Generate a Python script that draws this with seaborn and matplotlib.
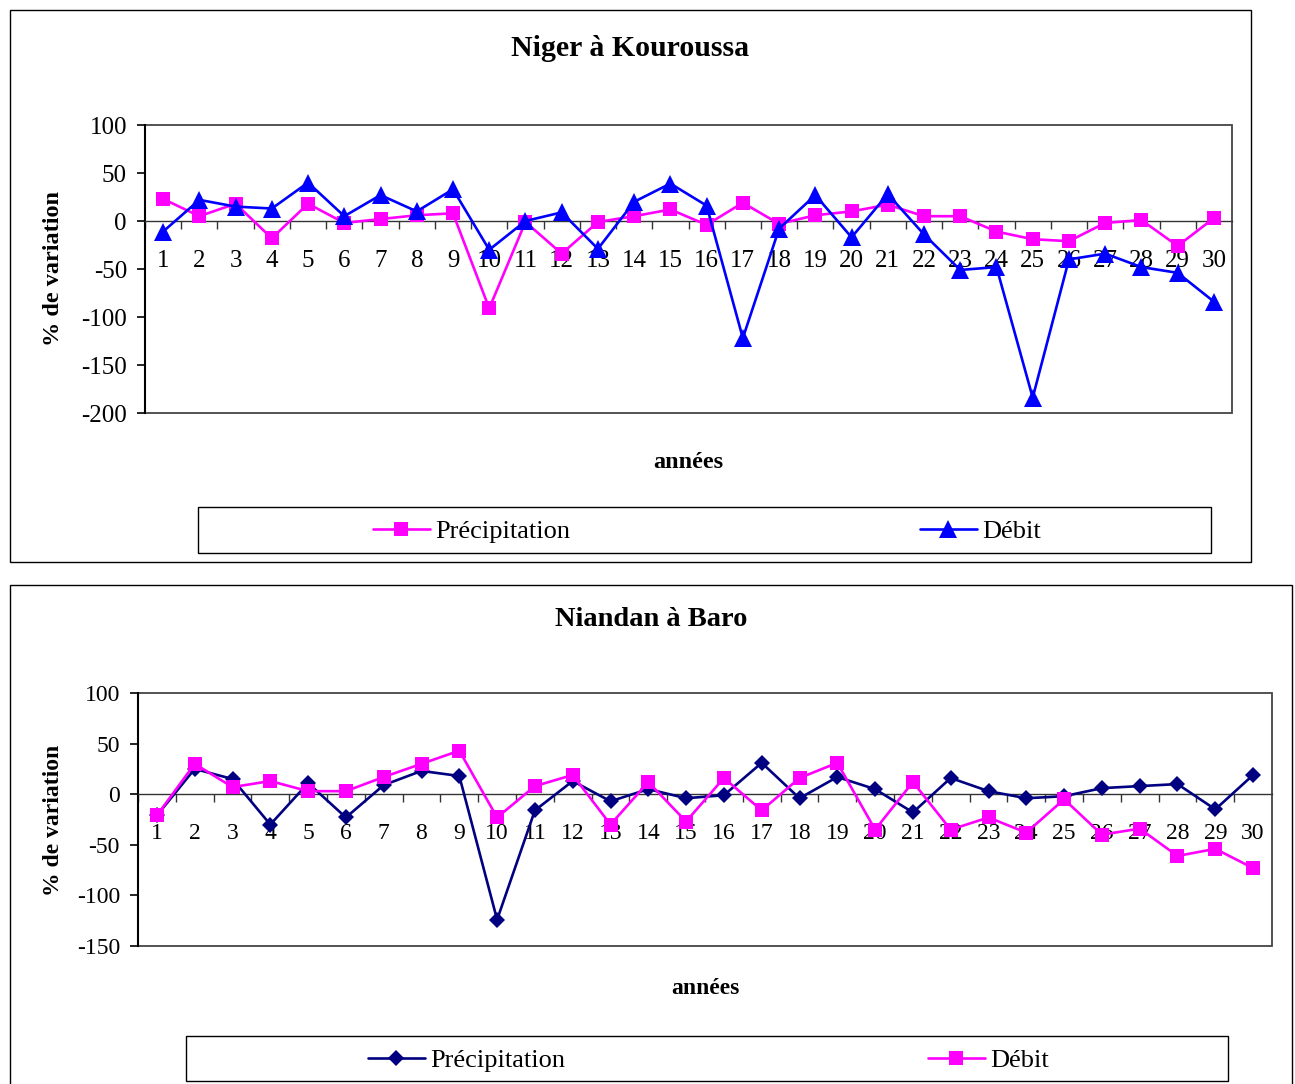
import seaborn as sns
import matplotlib.pyplot as plt
import matplotlib.patches as mpatches
from matplotlib.ticker import MultipleLocator, FixedLocator
import pandas as pd

# Data (years 1..30, % variation)
years = list(range(1, 31))
kour_precip = [23, 5, 18, -18, 18, -2, 2, 6, 8, -91, -1, -34, -1, 5, 12,
               -4, 19, -3, 6, 10, 17, 5, 5, -11, -19, -21, -2, 1, -26, 3]
kour_debit = [-11, 22, 15, 13, 40, 5, 27, 10, 33, -30, 0, 9, -29, 20, 39,
              16, -122, -8, 27, -17, 28, -14, -51, -48, -184, -40, -34, -48, -54, -84]
baro_precip = [-21, 25, 15, -30, 11, -23, 9, 23, 18, -124, -16, 13, -7, 5, -4,
               -1, 31, -4, 17, 5, -18, 16, 3, -4, -2, 6, 8, 10, -15, 19]
baro_debit = [-21, 30, 7, 13, 3, 3, 17, 30, 43, -23, 8, 19, -30, 12, -27,
              16, -16, 16, 31, -35, 12, -35, -23, -38, -5, -40, -34, -61, -54, -73]
series_names = ['Précipitation', 'Débit']

sns.set_style('white')
plt.rcParams['font.family'] = ['Liberation Serif', 'DejaVu Serif']
plt.rcParams['axes.unicode_minus'] = False
plt.rcParams['text.color'] = 'black'
plt.rcParams['xtick.color'] = 'black'
plt.rcParams['ytick.color'] = 'black'

W, H = 1295, 1084
fig = plt.figure(figsize=(W / 100, H / 100), dpi=100)


def fx(px):
    return px / W


def fy(py):
    return 1 - py / H


def frame(x0, y0, x1, y1, lw=1.0, color='black'):
    r = mpatches.Rectangle((fx(x0), fy(y1)), fx(x1) - fx(x0), fy(y0) - fy(y1),
                           transform=fig.transFigure, fill=False,
                           edgecolor=color, linewidth=lw, zorder=0)
    fig.add_artist(r)


def make_chart(box, ylim, ystep, precip, debit, palette, markers, sizes,
               tick_fs):
    x0, y0, x1, y1 = box
    ax = fig.add_axes([fx(x0), fy(y1), fx(x1) - fx(x0), fy(y0) - fy(y1)])
    df = pd.DataFrame({
        'année': years * 2,
        'variation': precip + debit,
        'série': [series_names[0]] * 30 + [series_names[1]] * 30,
    })
    sns.lineplot(data=df, x='année', y='variation', hue='série', style='série',
                 hue_order=series_names, style_order=series_names,
                 palette=palette, markers=markers, dashes=False,
                 linewidth=1.9, markeredgewidth=0, ax=ax, zorder=3)
    for line, name in zip(ax.get_lines(), series_names):
        line.set_markersize(sizes[name])
    handles, labels = ax.get_legend_handles_labels()
    for hnd, name in zip(handles, labels):
        hnd.set_markersize(sizes[name])
        hnd.set_markeredgewidth(0)
        hnd.set_linewidth(1.9)
    ax.get_legend().remove()

    ax.set_xlim(0.5, 30.5)
    ax.set_ylim(*ylim)
    ax.yaxis.set_major_locator(MultipleLocator(ystep))
    ax.set_xlabel('')
    ax.set_ylabel('')

    # category axis crosses at 0
    ax.spines['bottom'].set_position(('data', 0))
    ax.spines['bottom'].set_linewidth(1.0)
    ax.spines['bottom'].set_color('#333333')
    ax.spines['top'].set_visible(False)
    ax.spines['right'].set_visible(False)
    ax.spines['left'].set_linewidth(1.5)
    ax.spines['left'].set_color('black')
    ax.add_patch(mpatches.Rectangle((0, 0), 1, 1, transform=ax.transAxes,
                                    fill=False, edgecolor='#444444',
                                    linewidth=1.3, clip_on=False, zorder=1))

    ax.xaxis.set_major_locator(FixedLocator(years))
    ax.xaxis.set_minor_locator(FixedLocator([y + 0.5 for y in range(0, 30)]))
    ax.tick_params(axis='x', which='major', length=0, pad=21,
                   labelsize=tick_fs, bottom=True)
    ax.tick_params(axis='x', which='minor', length=6, width=1,
                   direction='out', bottom=True, color='#333333')
    ax.tick_params(axis='y', which='major', length=6, width=1.2,
                   direction='out', left=True, pad=7, labelsize=tick_fs)
    for t in ax.get_xticklabels():
        t.set_zorder(2)
    return ax, handles, labels


def add_legend(handles, labels, xs, ypx):
    for hnd, lab, xpx in zip(handles, labels, xs):
        fig.legend([hnd], [lab], loc='center left',
                   bbox_to_anchor=(fx(xpx), fy(ypx)), frameon=False,
                   fontsize=19, handlelength=2.15, handletextpad=0.2,
                   borderpad=0, borderaxespad=0)


# ---- top chart : Niger à Kouroussa ----
frame(10, 10, 1251, 562)
ax1, h1, l1 = make_chart(
    (145, 125, 1232, 413), (-200, 100), 50, kour_precip, kour_debit,
    {'Précipitation': '#FF00FF', 'Débit': '#0000FF'},
    {'Précipitation': 's', 'Débit': '^'},
    {'Précipitation': 10, 'Débit': 12.5}, 18)
fig.text(fx(630), fy(48), 'Niger à Kouroussa', ha='center', va='center',
         fontsize=21.5, fontweight='bold')
fig.text(fx(54), fy(269), '% de variation', rotation=90, ha='center',
         va='center', fontsize=17.5, fontweight='bold')
fig.text(fx(688), fy(462), 'années', ha='center', va='center',
         fontsize=17.5, fontweight='bold')
frame(198, 507, 1211, 553)
add_legend(h1, l1, [373, 920], 531)

# ---- bottom chart : Niandan à Baro ----
frame(10, 585, 1292, 1095)
ax2, h2, l2 = make_chart(
    (138, 693, 1272, 946), (-150, 100), 50, baro_precip, baro_debit,
    {'Précipitation': '#000080', 'Débit': '#FF00FF'},
    {'Précipitation': 'D', 'Débit': 's'},
    {'Précipitation': 8, 'Débit': 10.5}, 17)
fig.text(fx(651), fy(620), 'Niandan à Baro', ha='center', va='center',
         fontsize=20.5, fontweight='bold')
fig.text(fx(54), fy(820), '% de variation', rotation=90, ha='center',
         va='center', fontsize=17, fontweight='bold')
fig.text(fx(705), fy(989), 'années', ha='center', va='center',
         fontsize=17, fontweight='bold')
frame(186, 1036, 1228, 1081)
add_legend(h2, l2, [368, 928], 1060)

plt.savefig('out.png', dpi=100)
plt.close()
